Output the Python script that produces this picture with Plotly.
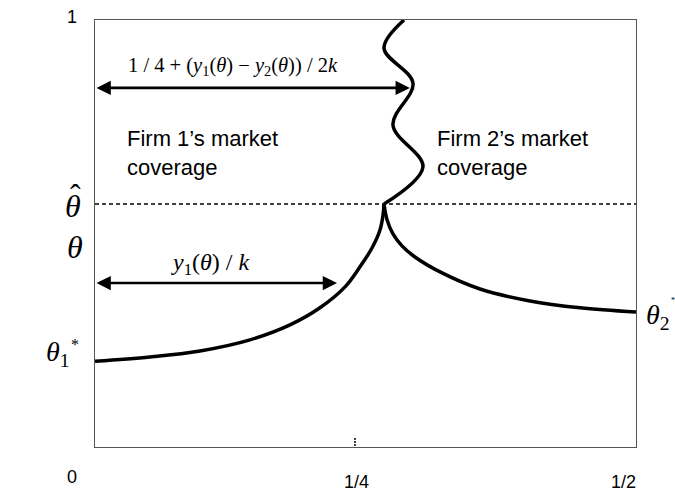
import plotly.graph_objects as go

# ---- data (in axis units: x from 0 to 1/2, theta from 0 to 1) ----
firm1_x = [0.0, 0.0508, 0.0970, 0.1433, 0.1802, 0.2079, 0.2311, 0.2449, 0.2560, 0.2634, 0.2662, 0.2671]
firm1_y = [0.201, 0.211, 0.225, 0.251, 0.286, 0.326, 0.375, 0.422, 0.466, 0.508, 0.543, 0.569]

firm2_x = [0.2671, 0.2699, 0.2754, 0.2837, 0.2957, 0.3189, 0.3558, 0.4020, 0.4482, 0.5]
firm2_y = [0.569, 0.532, 0.499, 0.471, 0.445, 0.410, 0.370, 0.342, 0.326, 0.316]

wave_x = [0.2671, 0.3031, 0.2754, 0.2939, 0.2671, 0.2856]
wave_y = [0.569, 0.656, 0.754, 0.852, 0.934, 1.0]

theta_hat = 0.569
arrow_upper = dict(y=0.841, x0=0.0, x1=0.291)
arrow_lower = dict(y=0.384, x0=0.0, x1=0.2237)
tick_quarter_x = 0.2403

X_MAX = 0.5
axis_labels = ["0", "1/4", "1/2", "1"]
axis_label_x = [-0.0213, 0.2421, 0.4880, -0.0213]
axis_label_y = [-0.070, -0.082, -0.082, 1.007]

SERIF = "Liberation Serif"
SANS = "Liberation Sans"

fig = go.Figure()

# dashed theta-hat line
fig.add_trace(go.Scatter(x=[0, X_MAX], y=[theta_hat, theta_hat], mode="lines",
                         line=dict(color="black", width=1.4, dash="4px,3px"),
                         hoverinfo="skip", showlegend=False))
# tick at 1/4
fig.add_trace(go.Scatter(x=[tick_quarter_x, tick_quarter_x], y=[0.0023, 0.0234], mode="lines",
                         line=dict(color="black", width=1.5, dash="2px,1px"),
                         hoverinfo="skip", showlegend=False))
# curves
for xs, ys in [(firm1_x, firm1_y), (firm2_x, firm2_y), (wave_x, wave_y)]:
    fig.add_trace(go.Scatter(x=xs, y=ys, mode="lines",
                             line=dict(color="black", width=3.5, shape="spline", smoothing=1.0),
                             hoverinfo="skip", showlegend=False))

annotations = []
# double headed arrows
for a in (arrow_upper, arrow_lower):
    annotations.append(dict(x=a["x1"], y=a["y"], ax=a["x0"], ay=a["y"], xref="x", yref="y",
                            axref="x", ayref="y", text="", showarrow=True, arrowhead=2,
                            arrowside="end+start", arrowsize=1.1, arrowwidth=2.6,
                            arrowcolor="black", standoff=0, startstandoff=0))

annotations.append(dict(x=0.1275, y=0.890, xref="x", yref="y", showarrow=False,
                        text="1 / 4 + (<i>y</i><sub>1</sub>(<i>θ</i>) − <i>y</i><sub>2</sub>(<i>θ</i>)) / 2<i>k</i>",
                        font=dict(family=SERIF, size=20.5, color="black")))
annotations.append(dict(x=0.1063, y=0.428, xref="x", yref="y", showarrow=False,
                        text="<i>y</i><sub>1</sub>(<i>θ</i>) / <i>k</i>",
                        font=dict(family=SERIF, size=24, color="black")))
annotations.append(dict(x=0.0277, y=0.689, xref="x", yref="y", showarrow=False, xanchor="left",
                        align="left", text="Firm 1’s market<br>coverage",
                        font=dict(family=SANS, size=22, color="black")))
annotations.append(dict(x=0.3142, y=0.689, xref="x", yref="y", showarrow=False, xanchor="left",
                        align="left", text="Firm 2’s market<br>coverage",
                        font=dict(family=SANS, size=22, color="black")))


def paper(xv, yv, xanchor="center"):
    # annotations outside the axis range must be placed in paper units
    return dict(x=xv / X_MAX, y=yv, xref="paper", yref="paper",
                xanchor=xanchor, yanchor="middle", showarrow=False)


for t, xv, yv in zip(axis_labels, axis_label_x, axis_label_y):
    annotations.append(dict(**paper(xv, yv), text=t,
                            font=dict(family=SANS, size=18, color="black")))

# theta labels
annotations.append(dict(**paper(-0.0185, 0.468),
                        text="<i>θ</i>", font=dict(family=SERIF, size=32, color="black")))
annotations.append(dict(**paper(-0.0200, 0.564),
                        text="<i>θ</i>", font=dict(family=SERIF, size=32, color="black")))
annotations.append(dict(**paper(-0.0182, 0.590),
                        text="ˆ", font=dict(family=SERIF, size=32, color="black")))
annotations.append(dict(**paper(-0.0213, 0.218, xanchor="right"),
                        text="<i>θ</i><sub>1</sub>", font=dict(family=SERIF, size=28, color="black")))
annotations.append(dict(**paper(-0.0185, 0.2395),
                        text="*", font=dict(family=SERIF, size=16, color="black")))
annotations.append(dict(**paper(0.5074, 0.306, xanchor="left"),
                        text="<i>θ</i><sub>2</sub>", font=dict(family=SERIF, size=28, color="black")))
annotations.append(dict(**paper(0.534, 0.343),
                        text="*", font=dict(family=SERIF, size=8, color="black")))

fig.update_layout(
    width=675, height=491,
    margin=dict(l=95, r=39, t=20, b=44),
    paper_bgcolor="white", plot_bgcolor="white",
    annotations=annotations,
    xaxis=dict(range=[0, X_MAX], showgrid=False, zeroline=False, showticklabels=False, ticks="",
               showline=True, mirror=True, linecolor="#555", linewidth=1.3, fixedrange=True),
    yaxis=dict(range=[0, 1], showgrid=False, zeroline=False, showticklabels=False, ticks="",
               showline=True, mirror=True, linecolor="#555", linewidth=1.3, fixedrange=True),
)

fig.write_html("out.html")
